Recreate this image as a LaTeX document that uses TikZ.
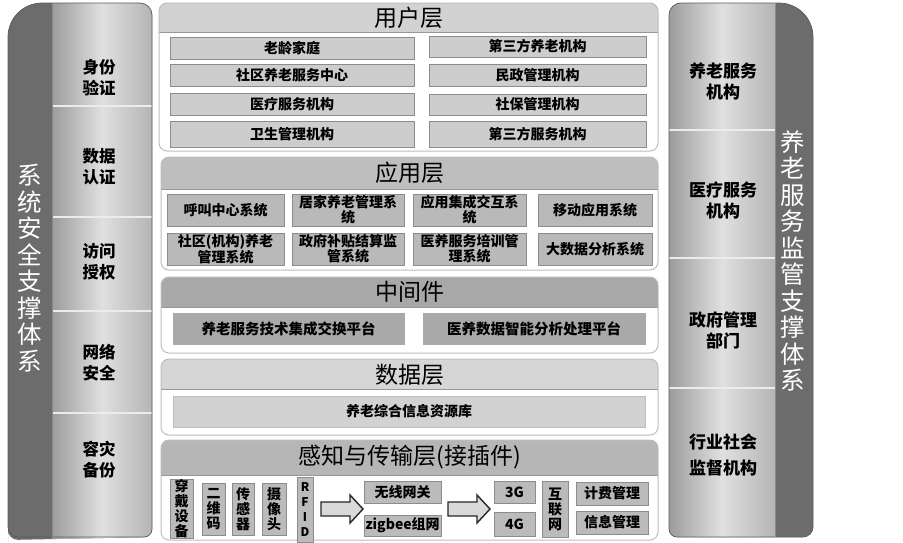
\documentclass[tikz,border=0pt]{standalone}
\usepackage{fontspec}
\setmainfont{Noto Sans CJK SC}
\definecolor{colDark}{HTML}{6C6C6C}
\definecolor{colLightA}{HTML}{9C9C9C}
\definecolor{colLightB}{HTML}{E0E0E0}
\definecolor{colLightC}{HTML}{B4B4B4}
\definecolor{colEdge}{HTML}{5A5A5A}
\definecolor{panelEdge}{HTML}{BDBDBD}
\definecolor{hdrUser}{HTML}{D2D2D2}
\definecolor{hdrApp}{HTML}{BEBEBE}
\definecolor{hdrMid}{HTML}{A8A8A8}
\definecolor{hdrData}{HTML}{D6D6D6}
\definecolor{hdrPer}{HTML}{B6B6B6}
\definecolor{itUser}{HTML}{CDCDCD}
\definecolor{itApp}{HTML}{B9B9B9}
\definecolor{itMid}{HTML}{A9A9A9}
\definecolor{itData}{HTML}{D2D2D2}
\definecolor{itPer}{HTML}{BBBBBB}
\definecolor{itEdge}{HTML}{8C8C8C}
\newcommand\bx[7][]{%
  \pgfmathsetmacro\bxw{#4-#2}\pgfmathsetmacro\bxh{#5-#3}%
  \node[item,#1,minimum width=\bxw pt,minimum height=\bxh pt] (#6) at ({(#2+#4)/2},{(#3+#5)/2}) {#7};}
\newcommand\panel[6]{% x1 y1 x2 y2 yh color
  \begin{scope}
    \clip[rounded corners=8pt] (#1,#2) rectangle (#3,#4);
    \fill[white] (#1,#2) rectangle (#3,#4);
    \fill[#6] (#1,#2) rectangle (#3,#5);
    \draw[panelEdge!80!black, line width=0.6pt] (#1,#5) -- (#3,#5);
  \end{scope}
  \draw[panelEdge, line width=1pt, rounded corners=8pt] (#1,#2) rectangle (#3,#4);}
\newcommand\blockarrow[2]{% x start, y centre
  \draw[bigarrow] (#1,#2-7) -- ++(29,0) -- ++(0,-7) -- ++(13,14) -- ++(-13,14) -- ++(0,-7) -- ++(-29,0) -- cycle;}
\begin{document}
\begin{tikzpicture}[x=1pt,y=-1pt,
  item/.style={draw=itEdge, line width=0.8pt, inner sep=0pt, align=center,
    font=\fontsize{14}{15}\selectfont\bfseries, text=black},
  ttl/.style={font=\fontsize{23}{26}\selectfont, text=black, inner sep=0pt},
  collab/.style={font=\fontsize{16.5}{21}\selectfont\bfseries, align=center, text=black, inner sep=0pt},
  vtitle/.style={font=\fontsize{24.5}{26.5}\selectfont, align=center, text=white, inner sep=0pt},
  bigarrow/.style={draw=black!85, line width=1.4pt, fill=gray!30, line join=miter}
]
\useasboundingbox (0,0) rectangle (903,542);

% ---------- left column ----------
\begin{scope}
  \clip (8,540) [rounded corners=10pt] -- (8,537) [rounded corners=34pt] -- (8,3) [rounded corners=12pt] -- (152,3) [rounded corners=8pt] -- (152,537) [rounded corners=10pt] -- cycle;
  \fill[colDark] (0,0) rectangle (160,542);
  \shade[left color=colLightA, right color=colLightC, middle color=colLightB] (52,0) rectangle (152,542);
  \foreach \yy in {106,217,311,413} \draw[white!85!gray, line width=1.5pt] (52,\yy) -- (152,\yy);
\end{scope}
\draw[colEdge, line width=0.7pt, rounded corners=12pt] (8,300) [rounded corners=34pt] -- (8,3) [rounded corners=12pt] -- (152,3) [rounded corners=8pt] -- (152,537) [rounded corners=10pt] -- (8,537) -- (8,300);
\draw[colEdge!70, line width=0.6pt] (52,3) -- (52,537);

\node[vtitle] (ltitle) at (30,268) {系\\统\\安\\全\\支\\撑\\体\\系};
\node[collab] (l1) at (99,78) {身份\\验证};
\node[collab] (l2) at (99,167) {数据\\认证};
\node[collab] (l3) at (99,262) {访问\\授权};
\node[collab] (l4) at (99,363) {网络\\安全};
\node[collab] (l5) at (99,460) {容灾\\备份};

% ---------- right column ----------
\begin{scope}
  \clip (669,300) [rounded corners=12pt] -- (669,3) [rounded corners=34pt] -- (813,3) [rounded corners=10pt] -- (813,537) [rounded corners=8pt] -- (669,537) -- cycle;
  \fill[colDark] (660,0) rectangle (820,542);
  \shade[left color=colLightA, right color=colLightC, middle color=colLightB] (669,0) rectangle (775,542);
  \foreach \yy in {130,258,388} \draw[white!85!gray, line width=1.5pt] (669,\yy) -- (775,\yy);
\end{scope}
\draw[colEdge, line width=0.7pt] (669,300) [rounded corners=12pt] -- (669,3) [rounded corners=34pt] -- (813,3) [rounded corners=10pt] -- (813,537) [rounded corners=8pt] -- (669,537) -- (669,300);
\draw[colEdge!70, line width=0.6pt] (775,3) -- (775,537);

\node[vtitle] (rtitle) at (793,261) {养\\老\\服\\务\\监\\管\\支\\撑\\体\\系};
\node[collab, font=\fontsize{17}{21}\selectfont\bfseries] (r1) at (723,81) {养老服务\\机构};
\node[collab, font=\fontsize{17}{21}\selectfont\bfseries] (r2) at (723,200) {医疗服务\\机构};
\node[collab, font=\fontsize{17}{21}\selectfont\bfseries] (r3) at (723,330) {政府管理\\部门};
\node[collab, font=\fontsize{17}{21}\selectfont\bfseries] (r4) at (723,455) {行业社会\\[5pt]监督机构};

% ---------- user layer ----------
\panel{159}{3}{658}{151}{32}{hdrUser}
\node[ttl] (tUser) at (408.5,17.5) {用户层};
\bx[fill=itUser]{170}{37}{414}{59}{u1}{老龄家庭}
\bx[fill=itUser]{170}{64}{414}{86}{u2}{社区养老服务中心}
\bx[fill=itUser]{170}{93}{414}{115}{u3}{医疗服务机构}
\bx[fill=itUser]{170}{121}{414}{147}{u4}{卫生管理机构}
\bx[fill=itUser]{429}{36}{646}{57}{u5}{第三方养老机构}
\bx[fill=itUser]{429}{64}{646}{86}{u6}{民政管理机构}
\bx[fill=itUser]{429}{94}{646}{115}{u7}{社保管理机构}
\bx[fill=itUser]{429}{121}{646}{147}{u8}{第三方服务机构}

% ---------- application layer ----------
\panel{161}{157}{658}{270}{189}{hdrApp}
\node[ttl] (tApp) at (409.5,173) {应用层};
\begin{scope}[every node/.append style={font=\fontsize{13.5}{14.5}\selectfont\bfseries}]
\bx[fill=itApp]{167}{194}{284}{226}{a1}{呼叫中心系统}
\bx[fill=itApp]{292}{194}{404}{226}{a2}{居家养老管理系\\统}
\bx[fill=itApp]{413}{194}{526}{226}{a3}{应用集成交互系\\统}
\bx[fill=itApp]{538}{194}{652}{226}{a4}{移动应用系统}
\bx[fill=itApp]{167}{233}{284}{265}{a5}{社区(机构)养老\\管理系统}
\bx[fill=itApp]{292}{233}{404}{265}{a6}{政府补贴结算监\\管系统}
\bx[fill=itApp]{413}{233}{526}{265}{a7}{医养服务培训管\\理系统}
\bx[fill=itApp]{538}{233}{652}{265}{a8}{大数据分析系统}
\end{scope}

% ---------- middleware ----------
\panel{161}{277}{658}{353}{307}{hdrMid}
\node[ttl] (tMid) at (409.5,292) {中间件};
\bx[fill=itMid, draw=itMid, font=\fontsize{14.5}{16}\selectfont\bfseries]{173}{313}{404}{344}{m1}{养老服务技术集成交换平台}
\bx[fill=itMid, draw=itMid, font=\fontsize{14.5}{16}\selectfont\bfseries]{423}{313}{645}{344}{m2}{医养数据智能分析处理平台}

% ---------- data layer ----------
\panel{161}{359}{658}{435}{389}{hdrData}
\node[ttl] (tData) at (409.5,375) {数据层};
\bx[fill=itData, draw=itData!90!black]{173}{396}{645}{427}{d1}{养老综合信息资源库}

% ---------- perception layer ----------
\panel{161}{440}{658}{540}{475}{hdrPer}
\node[ttl] (tPer) at (409.5,457.5) {感知与传输层(接插件)};
\begin{scope}[every node/.append style={font=\fontsize{13}{15}\selectfont\bfseries}]
\bx[fill=itPer]{170}{481}{193}{537}{p1}{穿\\戴\\设\\备}
\bx[fill=itPer]{202}{483}{225}{535}{p2}{二\\维\\码}
\bx[fill=itPer]{232}{483}{254}{535}{p3}{传\\感\\器}
\bx[fill=itPer]{262}{483}{286}{535}{p4}{摄\\像\\头}
\bx[fill=itPer, font=\fontsize{12}{15}\selectfont\bfseries]{297}{477}{313}{542}{p5}{R\\F\\I\\D}
\bx[fill=itPer]{364}{481}{441}{503}{p6}{无线网关}
\bx[fill=itPer]{364}{515}{441}{536}{p7}{zigbee组网}
\bx[fill=itPer]{494}{481}{535}{503}{p8}{3G}
\bx[fill=itPer]{494}{512}{535}{536}{p9}{4G}
\bx[fill=itPer]{542}{481}{568}{537}{p10}{互\\联\\网}
\bx[fill=itPer]{576}{482}{648}{505}{p11}{计费管理}
\bx[fill=itPer]{576}{511}{648}{534}{p12}{信息管理}
\end{scope}
\blockarrow{321}{509}
\blockarrow{448}{509}
\end{tikzpicture}
\end{document}
